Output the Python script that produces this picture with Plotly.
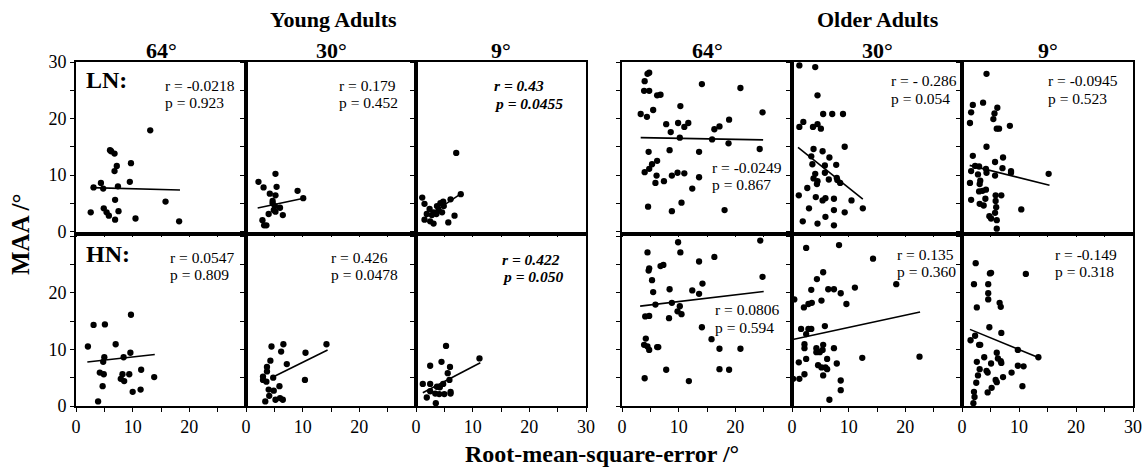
import plotly.graph_objects as go

# ---------------- DATA ----------------
# Young adults, LN (low noise)
YA_LN_64_X = [6.0, 6.2, 6.8, 13.1, 7.2, 9.7, 6.8, 9.5, 4.4, 3.1, 4.8, 7.4, 6.9, 15.8, 4.9, 5.4, 5.8, 7.5, 2.6, 6.9, 10.5, 18.2]
YA_LN_64_Y = [14.4, 14.2, 13.8, 17.9, 11.6, 12.1, 10.7, 8.8, 8.6, 7.8, 7.6, 8.0, 5.6, 5.3, 4.1, 3.4, 2.8, 3.6, 3.4, 2.1, 2.3, 1.8]
YA_LN_30_X = [2.2, 3.1, 5.2, 5.4, 4.2, 5.2, 9.1, 10.1, 4.7, 4.7, 5.1, 6.0, 4.9, 4.0, 5.2, 6.5, 2.9, 3.2, 3.6]
YA_LN_30_Y = [8.8, 7.8, 10.2, 7.9, 6.7, 6.4, 7.2, 5.9, 5.4, 5.0, 4.5, 4.2, 3.8, 3.1, 3.5, 2.9, 2.0, 1.1, 1.1]
YA_LN_9_X = [7.1, 7.9, 6.1, 1.1, 1.5, 4.3, 4.8, 3.7, 4.9, 2.4, 3.1, 4.0, 1.9, 2.8, 3.6, 6.8, 1.5, 2.5, 3.1, 5.7, 4.6]
YA_LN_9_Y = [13.9, 6.6, 5.7, 6.0, 4.9, 5.0, 5.3, 4.5, 4.5, 4.0, 3.4, 3.8, 3.1, 2.9, 3.1, 2.8, 2.1, 1.8, 1.4, 1.6, 3.4]

# Older adults, LN
OA_LN_64_X = [4.5, 4.8, 4.0, 3.9, 4.8, 6.2, 6.8, 14.1, 20.9, 5.5, 3.3, 4.4, 10.3, 24.8, 7.8, 8.6, 9.9, 11.0, 11.7,
              16.3, 17.2, 18.9, 10.2, 15.9, 18.8, 24.3, 4.7, 8.4, 13.6, 6.2, 5.3, 4.8, 4.0, 6.1, 5.9, 7.4, 8.8,
              9.8, 11.0, 13.6, 12.4, 4.6, 8.8, 10.5, 18.1]
OA_LN_64_Y = [27.9, 28.1, 26.6, 24.9, 24.9, 24.1, 24.2, 26.1, 25.4, 21.5, 20.8, 20.3, 22.2, 21.1, 19.0, 17.6, 19.2, 18.5, 19.2,
              18.1, 18.6, 19.8, 16.6, 16.3, 15.6, 14.6, 14.1, 14.4, 14.1, 12.5, 11.9, 11.1, 10.5, 9.9, 8.6, 8.9, 9.9,
              10.4, 10.3, 9.6, 7.6, 4.4, 3.6, 5.1, 3.8]
OA_LN_30_X = [1.3, 4.1, 4.5, 5.5, 7.1, 9.0, 1.3, 2.0, 3.7, 4.5, 5.1, 3.8, 9.3, 3.4, 5.4, 6.6, 3.6, 5.8, 7.8, 4.1, 5.8,
              3.8, 4.4, 4.5, 6.5, 7.9, 8.0, 8.5, 2.7, 1.2, 4.2, 5.4, 5.9, 7.4, 10.5, 12.5, 3.0, 7.4, 9.3, 5.9, 1.9,
              4.5, 7.4]
OA_LN_30_Y = [29.4, 29.1, 24.1, 20.8, 20.8, 20.8, 18.5, 19.4, 18.5, 19.0, 18.2, 14.6, 15.0, 13.3, 14.2, 13.1, 11.9, 11.7, 11.8, 10.2, 10.4,
              9.4, 8.4, 8.9, 9.2, 9.5, 9.1, 8.6, 7.7, 6.4, 6.1, 5.5, 5.9, 5.8, 5.5, 4.1, 4.1, 3.8, 3.4, 2.6, 1.8,
              1.4, 1.1]
OA_LN_9_X = [4.3, 3.7, 1.9, 1.6, 1.4, 5.7, 5.5, 6.2, 6.1, 6.5, 8.4, 4.3, 1.9, 7.2, 5.8, 2.3, 3.0, 4.2, 1.6, 2.8, 4.3,
             5.8, 7.1, 8.6, 8.6, 15.2, 1.4, 3.2, 3.1, 3.0, 3.6, 4.2, 1.6, 4.1, 3.1, 3.8, 5.9, 6.9, 5.9, 6.0, 5.8,
             10.4, 4.8, 5.1, 6.1, 6.1]
OA_LN_9_Y = [27.9, 22.8, 22.4, 21.1, 19.2, 20.9, 19.9, 21.9, 18.2, 18.2, 18.7, 15.0, 13.4, 13.1, 12.3, 11.6, 11.5, 11.1, 10.7, 10.1, 10.4,
             9.9, 11.2, 10.7, 10.4, 10.2, 8.6, 9.0, 8.4, 7.1, 7.2, 7.4, 5.6, 5.8, 4.9, 4.6, 6.4, 6.4, 5.4, 4.3, 3.3,
             3.9, 2.7, 2.3, 0.5, 2.0]

# Young adults, HN (high noise)
YA_HN_64_X = [9.7, 3.1, 5.1, 2.1, 7.0, 9.6, 5.0, 8.4, 4.8, 4.2, 4.9, 8.2, 9.4, 11.5, 13.8, 7.9, 8.5, 4.7, 10.0, 11.4, 3.9]
YA_HN_64_Y = [16.1, 14.3, 14.4, 10.5, 10.9, 9.4, 8.6, 8.6, 7.8, 5.9, 5.6, 5.6, 5.6, 6.4, 5.1, 4.8, 4.4, 3.5, 2.5, 2.9, 0.8]
YA_HN_30_X = [6.6, 4.5, 6.2, 14.2, 10.5, 4.3, 7.2, 3.7, 3.7, 3.0, 3.0, 3.6, 4.8, 10.4, 5.9, 4.0, 4.9, 4.1, 5.2, 6.0, 6.5, 3.4]
YA_HN_30_Y = [10.9, 10.5, 9.6, 10.9, 9.4, 8.0, 7.4, 6.9, 6.1, 5.2, 4.6, 4.3, 5.0, 4.6, 3.5, 2.9, 2.7, 1.8, 1.1, 1.4, 1.1, 0.8]
YA_HN_9_X = [5.3, 11.2, 2.5, 4.5, 6.0, 5.6, 5.9, 1.2, 2.5, 4.8, 4.2, 2.5, 3.4, 4.1, 5.0, 6.1, 6.1, 1.9, 3.5, 3.7]
YA_HN_9_Y = [10.6, 8.4, 7.1, 7.8, 6.9, 5.8, 4.6, 3.9, 3.9, 3.9, 3.3, 2.6, 2.2, 2.1, 2.1, 2.2, 2.5, 1.5, 0.5, 3.4]

# Older adults, HN
OA_HN_64_X = [9.9, 24.4, 4.5, 10.3, 16.3, 13.6, 6.8, 7.3, 4.8, 4.7, 24.8, 5.3, 14.2, 8.4, 5.5, 12.4, 13.6, 5.9, 8.8, 10.2,
              9.8, 10.5, 4.1, 4.8, 8.3, 14.1, 4.2, 15.8, 3.9, 4.5, 4.8, 6.2, 6.4, 17.2, 20.9, 7.8, 17.2, 18.9, 4.0, 11.8]
OA_HN_64_Y = [28.9, 29.2, 27.1, 27.1, 26.3, 25.5, 24.7, 24.9, 24.3, 23.9, 22.8, 22.2, 21.6, 20.6, 20.1, 20.4, 19.8, 17.9, 18.2, 17.6,
              16.7, 16.2, 15.8, 15.9, 15.5, 13.9, 11.9, 11.8, 10.8, 10.5, 9.9, 10.4, 10.4, 10.1, 10.1, 6.4, 6.5, 6.4, 4.9, 4.4]
OA_HN_30_X = [2.5, 8.3, 14.3, 5.5, 4.4, 18.4, 3.4, 6.4, 7.4, 11.1, 8.6, 0.4, 5.2, 9.6, 2.1, 2.9, 3.5, 1.6, 2.9, 3.4, 5.8,
              2.5, 2.2, 2.2, 4.3, 5.5, 7.4, 4.3, 4.9, 5.4, 2.5, 6.2, 12.4, 22.5, 1.2, 4.6, 7.9, 5.2, 5.9, 6.2, 5.5,
              2.2, 0.2, 1.3, 8.6, 8.6, 6.6]
OA_HN_30_Y = [27.9, 28.4, 26.0, 23.6, 22.4, 21.5, 20.5, 20.6, 20.6, 20.9, 19.9, 18.8, 18.6, 18.0, 17.4, 18.0, 18.2, 13.6, 13.6, 13.6, 14.1,
              12.7, 10.9, 10.2, 10.2, 10.8, 10.2, 9.5, 9.5, 9.9, 8.3, 8.3, 8.5, 8.7, 7.7, 7.2, 7.5, 6.8, 6.8, 6.5, 5.4,
              5.6, 4.8, 4.8, 4.5, 2.8, 1.1]
OA_HN_9_X = [2.4, 4.9, 5.1, 11.2, 2.1, 4.6, 4.6, 4.6, 6.6, 6.8, 2.6, 4.8, 6.9, 2.3, 1.5, 3.0, 3.2, 9.8, 13.4, 6.1, 6.3,
             6.8, 6.9, 3.9, 2.6, 5.1, 9.8, 10.8, 3.1, 4.3, 4.5, 2.8, 7.2, 8.7, 5.9, 6.1, 2.5, 5.2, 4.5, 10.6, 2.1,
             2.2, 2.0]
OA_HN_9_Y = [25.2, 23.4, 23.5, 23.3, 21.5, 21.5, 19.9, 18.8, 18.2, 17.5, 17.4, 13.9, 12.9, 12.4, 11.6, 10.8, 10.8, 9.9, 8.6, 9.4, 8.4,
             7.9, 7.6, 8.6, 7.8, 7.5, 7.1, 7.0, 6.5, 6.2, 5.9, 5.4, 5.1, 5.9, 4.6, 4.2, 4.1, 3.2, 2.4, 3.5, 2.5,
             1.6, 0.5]

# Panel order: LN row (YA 64, YA 30, YA 9, OA 64, OA 30, OA 9), then HN row (same order)
PANEL_X = [YA_LN_64_X, YA_LN_30_X, YA_LN_9_X, OA_LN_64_X, OA_LN_30_X, OA_LN_9_X,
           YA_HN_64_X, YA_HN_30_X, YA_HN_9_X, OA_HN_64_X, OA_HN_30_X, OA_HN_9_X]
PANEL_Y = [YA_LN_64_Y, YA_LN_30_Y, YA_LN_9_Y, OA_LN_64_Y, OA_LN_30_Y, OA_LN_9_Y,
           YA_HN_64_Y, YA_HN_30_Y, YA_HN_9_Y, OA_HN_64_Y, OA_HN_30_Y, OA_HN_9_Y]

# Regression fits: intercept, slope, fitted x-range
FIT_INTERCEPT = [7.83, 3.74, 1.40, 16.67, 15.75, 12.04, 7.53, 2.77, 1.72, 17.24, 11.72, 14.10]
FIT_SLOPE = [-0.026, 0.211, 0.667, -0.0185, -0.80, -0.25, 0.113, 0.495, 0.522, 0.119, 0.216, -0.413]
FIT_X_FROM = [2.6, 2.06, 1.2, 3.3, 1.06, 1.35, 2.0, 4.5, 1.2, 3.2, 0.35, 1.4]
FIT_X_TO = [18.35, 10.2, 8.1, 24.9, 12.5, 15.35, 13.9, 14.4, 11.35, 25.0, 22.6, 13.5]

# Correlation statistics
R_TEXT = ["-0.0218", "0.179", "0.43", "-0.0249", "- 0.286", "-0.0945",
          "0.0547", "0.426", "0.422", "0.0806", "0.135", "-0.149"]
P_TEXT = ["0.923", "0.452", "0.0455", "0.867", "0.054", "0.523",
          "0.809", "0.0478", "0.050", "0.594", "0.360", "0.318"]
SIGNIFICANT = [False, False, True, False, False, False,
               False, False, True, False, False, False]

GROUPS = ["Young Adults", "Older Adults"]
ANGLES = ["64°", "30°", "9°"]
CONDITIONS = ["LN:", "HN:"]
X_TITLE = "Root-mean-square-error /°"
Y_TITLE = "MAA /°"

# ---------------- LAYOUT (pixels) ----------------
W, H = 1146, 469
COL_L = [76, 246, 416, 622, 792, 962]
COL_R = [246, 416, 586, 792, 962, 1133]
ROW_T = [62, 236]
ROW_B = [231.5, 406]
# label positions (data units): x, y of r-line, y of p-line
LABEL_POS = [(15.35, 25.8, 22.8), (16.06, 25.8, 22.8), (13.47, 25.9, 22.7),
             (15.5, 11.3, 8.3), (17.2, 26.7, 23.5), (14.65, 26.7, 23.5),
             (16.3, 26.2, 23.2), (14.7, 26.2, 23.2), (14.8, 25.9, 22.9),
             (16.1, 17.1, 13.9), (18.2, 26.8, 23.8), (16.0, 26.8, 23.8)]

FONT = "Liberation Serif, Times New Roman, serif"


def px(x):
    return x / W


def py(y):
    return 1 - y / H


fig = go.Figure()
layout = dict(width=W, height=H, autosize=False,
              margin=dict(l=0, r=0, t=0, b=0, pad=0, autoexpand=False),
              paper_bgcolor="white", plot_bgcolor="white", showlegend=False,
              font=dict(family=FONT, color="black"))
annotations = []

for i in range(12):
    row, col = divmod(i, 6)
    n = i + 1
    xs = "" if n == 1 else str(n)
    xa, ya = "x" + xs, "y" + xs
    xs_data, ys_data = PANEL_X[i], PANEL_Y[i]
    fig.add_trace(go.Scatter(x=xs_data, y=ys_data, mode="markers", xaxis=xa, yaxis=ya,
                             marker=dict(size=6.3, color="black"), hoverinfo="skip",
                             cliponaxis=False))
    x0, x1 = FIT_X_FROM[i], FIT_X_TO[i]
    b0, b1 = FIT_INTERCEPT[i], FIT_SLOPE[i]
    fig.add_trace(go.Scatter(x=[x0, x1], y=[b0 + b1 * x0, b0 + b1 * x1], mode="lines",
                             xaxis=xa, yaxis=ya, line=dict(color="black", width=1.6),
                             hoverinfo="skip"))

    # x axis
    last_in_group = col in (2, 5)
    xtickvals = [0, 5, 10, 15, 20, 25, 30]
    xticktext = ["0", "", "10", "", "20", "", "30" if last_in_group else ""]
    layout["xaxis" + xs] = dict(
        domain=[px(COL_L[col]), px(COL_R[col])], anchor=ya, range=[0, 30],
        tickmode="array", tickvals=xtickvals, ticktext=xticktext, automargin=False,
        showticklabels=(row == 1), ticks="outside", ticklen=4, tickwidth=1.3,
        tickcolor="black", showline=True, mirror=True, linecolor="black", linewidth=1.6,
        showgrid=False, zeroline=False, tickfont=dict(family=FONT, size=18, color="black"))
    # y axis
    ytickvals = [0, 5, 10, 15, 20, 25, 30]
    yticktext = ["0", "", "10", "", "20", "", "30" if row == 0 else ""]
    layout["yaxis" + xs] = dict(
        domain=[py(ROW_B[row]), py(ROW_T[row])], anchor=xa, range=[0, 30],
        tickmode="array", tickvals=ytickvals, ticktext=yticktext, automargin=False,
        showticklabels=(col == 0), ticks="outside", ticklen=4, tickwidth=1.3,
        tickcolor="black", showline=True, mirror=True, linecolor="black", linewidth=1.6,
        showgrid=False, zeroline=False, tickfont=dict(family=FONT, size=18, color="black"))

    # r / p labels
    lx, ry, pyv = LABEL_POS[i]
    rt, pt = "r = " + R_TEXT[i], "p = " + P_TEXT[i]
    if SIGNIFICANT[i]:
        rt, pt = "<b><i>" + rt + "</i></b>", "<b><i>" + pt + "</i></b>"
    for txt, yy in ((rt, ry), (pt, pyv)):
        annotations.append(dict(text=txt, x=lx, y=yy, xref=xa, yref=ya, xanchor="left",
                                yanchor="middle", showarrow=False,
                                font=dict(family=FONT, size=15.5, color="black")))

# group titles
for g, cx in zip(GROUPS, [333.5, 877.5]):
    annotations.append(dict(text="<b>" + g + "</b>", x=px(cx), y=py(19), xref="paper", yref="paper",
                            xanchor="center", yanchor="middle", showarrow=False,
                            font=dict(family=FONT, size=22, color="black")))
# angle titles
for col in range(6):
    cx = (COL_L[col] + COL_R[col]) / 2
    annotations.append(dict(text="<b>" + ANGLES[col % 3] + "</b>", x=px(cx), y=py(50), xref="paper",
                            yref="paper", xanchor="center", yanchor="middle", showarrow=False,
                            font=dict(family=FONT, size=22, color="black")))
# LN / HN
for cond, cy in zip(CONDITIONS, [80, 254]):
    annotations.append(dict(text="<b>" + cond + "</b>", x=px(84), y=py(cy), xref="paper", yref="paper",
                            xanchor="left", yanchor="middle", showarrow=False,
                            font=dict(family=FONT, size=24, color="black")))
# axis titles
annotations.append(dict(text="<b>" + X_TITLE + "</b>", x=px(602), y=py(453.5), xref="paper", yref="paper",
                        xanchor="center", yanchor="middle", showarrow=False,
                        font=dict(family=FONT, size=24, color="black")))
annotations.append(dict(text="<b>" + Y_TITLE + "</b>", x=px(21), y=py(234), xref="paper", yref="paper",
                        xanchor="center", yanchor="middle", showarrow=False, textangle=-90,
                        font=dict(family=FONT, size=25, color="black")))

layout["annotations"] = annotations
fig.update_layout(**layout)
fig.write_html("out.html", config={"responsive": False})
